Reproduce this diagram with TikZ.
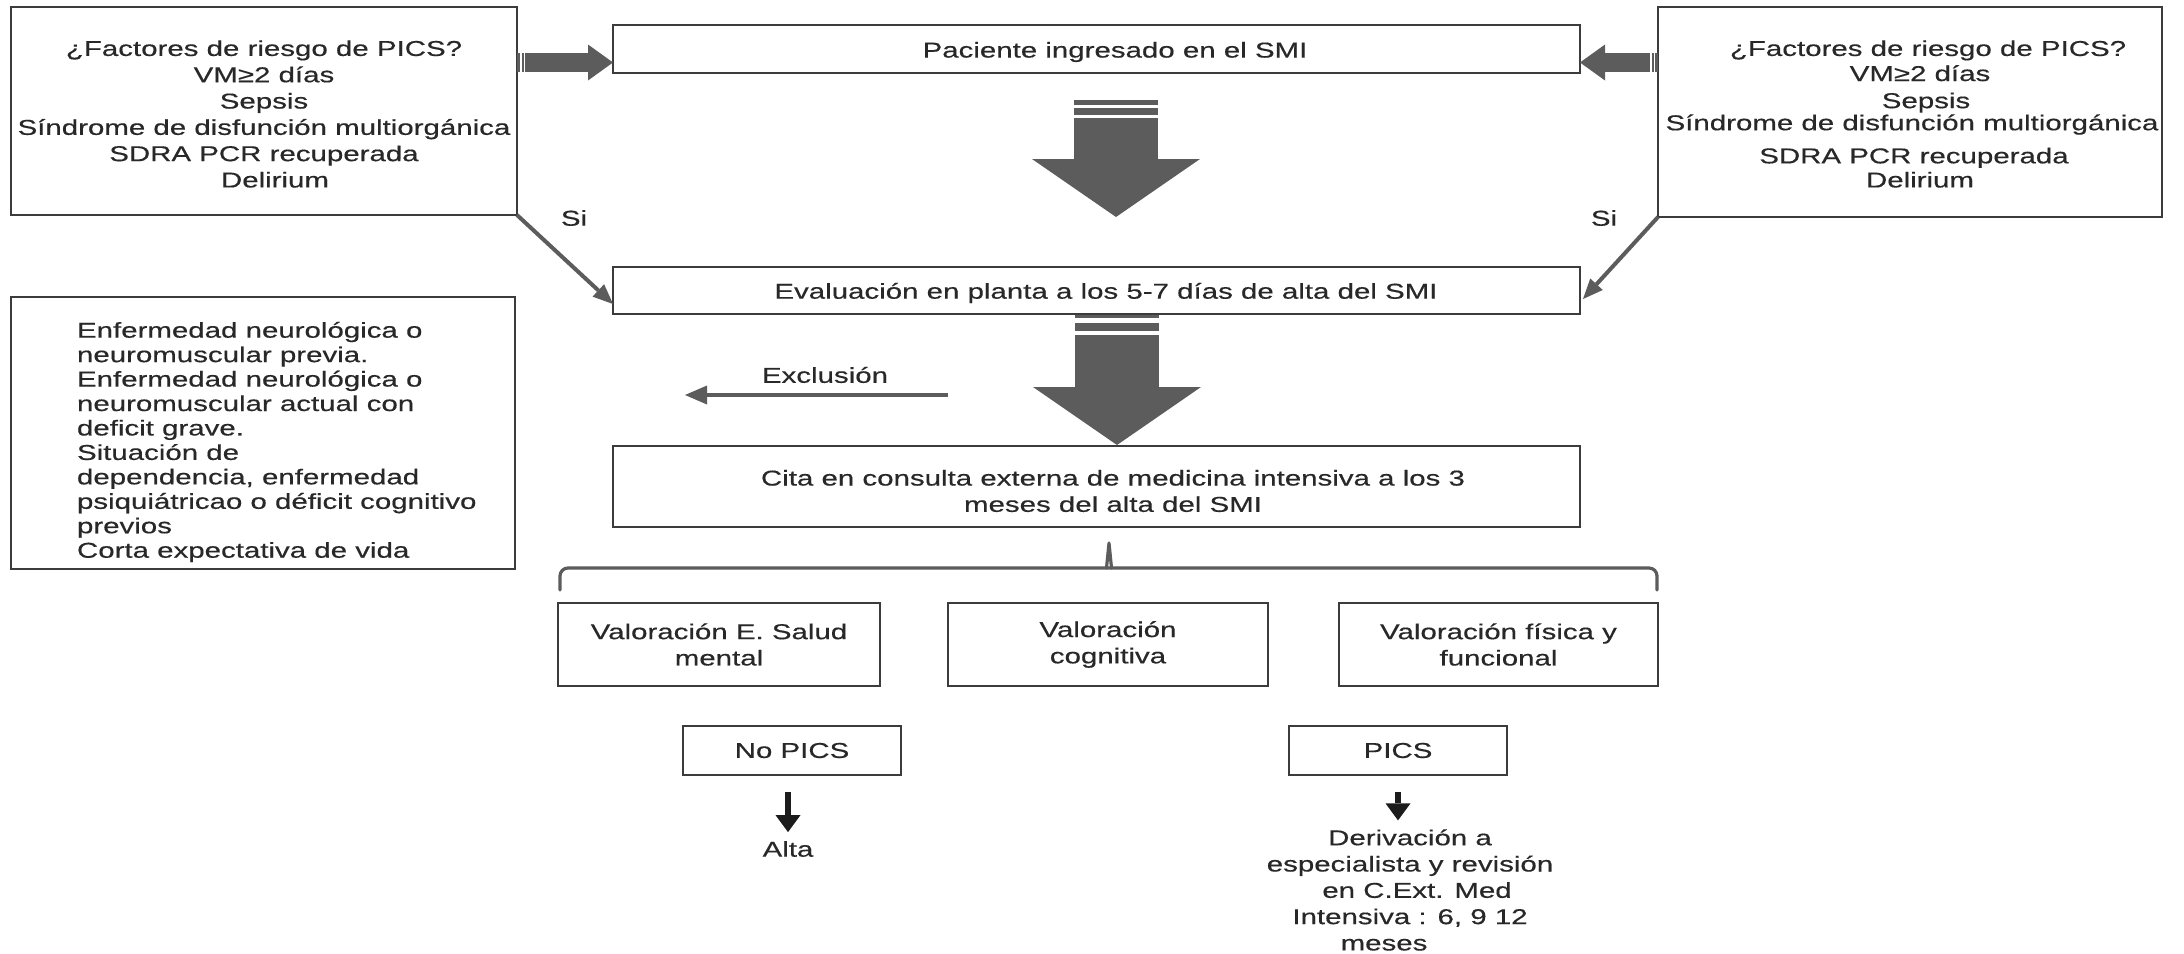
\documentclass[tikz,border=0pt]{standalone}
\usepackage{fontspec}
\setmainfont{Liberation Sans}[FakeStretch=1.37,FakeBold=0.4]
\usetikzlibrary{arrows.meta,calc}
\definecolor{inkgray}{HTML}{282828}
\definecolor{framegray}{HTML}{3C3C3C}
\definecolor{arrowgray}{HTML}{5C5C5C}
\definecolor{darkarrow}{HTML}{1C1C1C}
\begin{document}
\begin{tikzpicture}[x=1pt,y=-1pt,
  txt/.style={font=\fontsize{21.5}{26.3}\selectfont, text=inkgray, inner sep=0pt, outer sep=0pt},
  box/.style={txt, draw=framegray, line width=2.5pt, rectangle, align=center},
  heavyarrow/.style={draw=arrowgray, line width=84pt, -{Triangle[width=168pt,length=58pt,line width=0pt]}},
  sidearrow/.style={draw=arrowgray, line width=19pt, -{Triangle[width=36pt,length=25pt,line width=0pt]}},
  siarrow/.style={draw=arrowgray, line width=4pt, -{Triangle[width=17pt,length=20pt,line width=0pt]}},
  exarrow/.style={draw=arrowgray, line width=4pt, -{Triangle[width=19pt,length=22pt,line width=0pt]}},
  blackarrow/.style={draw=darkarrow, line width=5.5pt, -{Triangle[width=25pt,length=17pt,line width=0pt]}},
  bracket/.style={draw=arrowgray, line width=3.2pt, line cap=round, line join=round}
]
\fill[white] (0,0) rectangle (2184,953);
\useasboundingbox (0,0) rectangle (2184,953);

% risk factor boxes
\node[box, minimum width=506pt, minimum height=208pt] (riskL) at (264,111) {};
\node[txt, align=center] (riskLtext) at (264,114)
  {¿Factores de riesgo de PICS?\\VM≥2 días\hspace*{18pt}\\Sepsis\\Síndrome de disfunción multiorgánica\\SDRA PCR recuperada\hspace*{33pt}\\\hspace*{22pt}Delirium};
\node[box, minimum width=504pt, minimum height=210pt] (riskR) at (1910,112) {};
\node[txt, align=center] (riskRtext) at (1912,114)
  {\hspace*{32pt}¿Factores de riesgo de PICS?\\[-1.2pt]\hspace*{16pt}VM≥2 días\\[0.8pt]\hspace*{28pt}Sepsis\\[-4.2pt]Síndrome de disfunción multiorgánica\\[6.8pt]\hspace*{4pt}SDRA PCR recuperada\\[-2.2pt]\hspace*{16pt}Delirium};

% main flow
\node[box, minimum width=967pt, minimum height=48pt] (adm) at (1096.5,49) {};
\node[txt] (admtext) at (1115,52) {Paciente ingresado en el SMI};
\node[box, minimum width=967pt, minimum height=47pt] (eval) at (1096.5,290.5) {};
\node[txt] (evaltext) at (1106,293) {Evaluación en planta a los 5-7 días de alta del SMI};
\node[box, minimum width=967pt, minimum height=81pt] (cita) at (1096.5,486.5) {};
\node[txt, align=center] (citatext) at (1113,491)
  {Cita en consulta externa de medicina intensiva a los 3\\meses del alta del SMI};

% exclusion criteria
\node[box, minimum width=504pt, minimum height=272pt] (excl) at (263,433) {};
\node[txt, font=\fontsize{21.5}{24.45}\selectfont, align=left, anchor=west] (excltext) at (77,442)
  {Enfermedad neurológica o\\neuromuscular previa.\\Enfermedad neurológica o\\neuromuscular actual con\\deficit grave.\\Situación de\\dependencia, enfermedad\\psiquiátricao o déficit cognitivo\\previos\\Corta expectativa de vida};

% assessments
\node[box, minimum width=322pt, minimum height=83pt] (val1) at (719,644.5) {Valoración E. Salud\\mental};
\node[box, minimum width=320pt, minimum height=83pt] (val2) at (1108,644.5) {Valoración\\cognitiva};
\node[box, minimum width=319pt, minimum height=83pt] (val3) at (1498.5,644.5) {Valoración física y\\funcional};

% outcomes
\node[box, minimum width=218pt, minimum height=49pt] (nopics) at (792,750.5) {No PICS};
\node[box, minimum width=218pt, minimum height=49pt] (pics) at (1398,750.5) {PICS};
\node[txt] (alta) at (788,849) {Alta};
\node[txt, align=center] (deriv) at (1410,890)
  {Derivación a\\especialista y revisión\\\hspace*{14pt}en C.Ext. Med\\Intensiva : 6, 9 12\\meses\hspace*{52pt}};

% labels
\node[txt] (siL) at (574,218) {Si};
\node[txt] (siR) at (1604,218) {Si};
\node[txt] (exlabel) at (825,375) {Exclusión};

% side arrows into the admission box
\coordinate (sideY) at (0,62.5);
\draw[sidearrow] (riskL.east |- sideY) -- (adm.west |- sideY);
\draw[sidearrow] (riskR.west |- sideY) -- (adm.east |- sideY);
\fill[white] ($(riskL.east |- sideY)+(3,-10)$) rectangle ++(1.5,20);
\fill[white] ($(riskL.east |- sideY)+(6.5,-10)$) rectangle ++(1.5,20);
\fill[white] ($(riskR.west |- sideY)+(-4.5,-10)$) rectangle ++(1.5,20);
\fill[white] ($(riskR.west |- sideY)+(-8,-10)$) rectangle ++(1.5,20);

% heavy down arrows
\fill[arrowgray] ($(adm.south)+(-22.5,27)$) rectangle ++(84,5);
\fill[arrowgray] ($(adm.south)+(-22.5,35)$) rectangle ++(84,7);
\draw[heavyarrow] ($(adm.south)+(19.5,45)$) -- ($(eval.north)+(19.5,-50)$);
\fill[arrowgray] ($(eval.south)+(-21.5,1)$) rectangle ++(84,3);
\fill[arrowgray] ($(eval.south)+(-21.5,9)$) rectangle ++(84,8);
\draw[heavyarrow] ($(eval.south)+(20.5,21)$) -- ($(cita.north)+(20.5,-1)$);

% "Si" arrows
\draw[siarrow] (riskL.south east) -- ($(eval.south west)+(0,-10)$);
\draw[siarrow] (riskR.south west) -- ($(eval.south east)+(3,-15)$);

% exclusion arrow
\coordinate (exStart) at (948,395);
\coordinate (exEnd) at (685,395);
\draw[exarrow] (exStart) -- (exEnd);

% bracket from the appointment to the three assessments
\coordinate (brL) at ($(val1.north west)+(2,-13)$);
\coordinate (brR) at ($(val3.north east)+(-1,-13)$);
\coordinate (brTip) at ($(cita.south)+(12.5,16)$);
\coordinate (brY) at ($(cita.south)+(0,41)$);
\draw[bracket, rounded corners=8pt] (brL) -- (brL |- brY) -- (brR |- brY) -- (brR);
\draw[bracket] ($(brTip |- brY)+(-2.5,0)$) -- (brTip) -- ($(brTip |- brY)+(2.5,0)$);

% outcome arrows
\draw[blackarrow, shorten <=17pt, shorten >=9pt] (nopics.south -| alta.north) -- (alta.north);
\draw[blackarrow, shorten <=17pt, shorten >=9pt] (pics.south) -- (pics.south |- deriv.north);
\end{tikzpicture}
\end{document}
